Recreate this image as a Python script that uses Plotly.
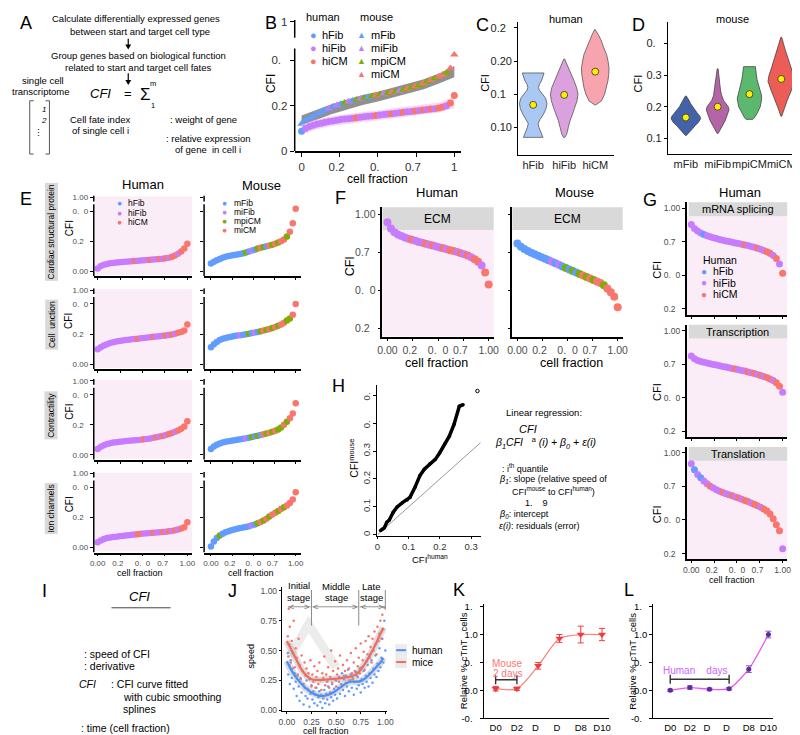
import plotly.graph_objects as go

W, H = 800, 735
FONT = "Liberation Sans"
G = "\u2007"      # digit-wide blank where the reference lost a glyph
NB = "\u00a0"

HUMAN_COLORS = {"F": "#619cff", "I": "#c77cff", "C": "#f8766d"}
MOUSE_COLORS = {"F": "#619cff", "I": "#c77cff", "P": "#7cae00", "C": "#f8766d"}
PINK = "#fbedf8"
STRIP = "#d9d9d9"
TG = "#4d4d4d"

# ---------------- Panel B ----------------
B_mouse_cfi = [0.120, 0.135, 0.145, 0.155, 0.165, 0.172, 0.180, 0.187, 0.195, 0.202,
               0.208, 0.213, 0.218, 0.222, 0.226, 0.230, 0.234, 0.238, 0.242, 0.246,
               0.250, 0.253, 0.256, 0.259, 0.262, 0.265, 0.270, 0.275, 0.280, 0.285,
               0.290, 0.298, 0.306, 0.313, 0.320, 0.328, 0.336, 0.345, 0.365, 0.425]
B_mouse_grp = "FFFFFFFIFI" "FPIFPIPFPC" "PIPCPIPCPC" "PCPCPCCPCC"
B_human_cfi = [0.087, 0.100, 0.108, 0.114, 0.119, 0.123, 0.127, 0.130, 0.133, 0.136,
               0.139, 0.141, 0.143, 0.145, 0.147, 0.149, 0.151, 0.153, 0.155, 0.157,
               0.159, 0.161, 0.163, 0.165, 0.167, 0.169, 0.171, 0.173, 0.175, 0.177,
               0.179, 0.181, 0.183, 0.185, 0.187, 0.190, 0.194, 0.200, 0.212, 0.245]
B_human_grp = "FIIIIIIIII" "IIIICIIIIC" "IIICIICIIC" "ICICICCICC"
B_band_x = [0.0, 0.1, 0.2, 0.3, 0.4, 0.5, 0.6, 0.7, 0.8, 0.9, 1.0]
B_mouse_lo = [0.113, 0.138, 0.163, 0.183, 0.203, 0.218, 0.236, 0.253, 0.273, 0.298, 0.325]
B_mouse_hi = [0.157, 0.182, 0.207, 0.227, 0.247, 0.262, 0.280, 0.297, 0.317, 0.342, 0.375]
B_human_lo = [0.073, 0.096, 0.110, 0.120, 0.128, 0.136, 0.144, 0.153, 0.161, 0.170, 0.190]
B_human_hi = [0.117, 0.140, 0.154, 0.164, 0.172, 0.180, 0.188, 0.197, 0.205, 0.214, 0.240]
B_human_labels = ["hFib", "hiFib", "hiCM"]
B_mouse_labels = ["mFib", "miFib", "mpiCM", "miCM"]

# ---------------- Panel C (violin density profiles) ----------------
C_groups = ["hFib", "hiFib", "hiCM"]
C_fill = ["#a9c9f4", "#dba1df", "#f7a4ae"]
C_prof_y = [
    [0.085, 0.09, 0.095, 0.10, 0.106, 0.112, 0.12, 0.128, 0.136, 0.144, 0.15, 0.156, 0.16, 0.165, 0.17, 0.176, 0.182],
    [0.085, 0.09, 0.10, 0.11, 0.12, 0.13, 0.14, 0.15, 0.16, 0.17, 0.18, 0.19, 0.197, 0.203],
    [0.134, 0.14, 0.15, 0.16, 0.17, 0.18, 0.19, 0.20, 0.21, 0.22, 0.23, 0.24, 0.248],
]
C_prof_w = [
    [0.71, 0.6, 0.5, 0.42, 0.36, 0.5, 0.75, 0.93, 1.0, 0.9, 0.68, 0.45, 0.39, 0.45, 0.6, 0.72, 0.79],
    [0.05, 0.18, 0.3, 0.42, 0.6, 0.78, 0.93, 1.0, 0.9, 0.72, 0.52, 0.32, 0.15, 0.03],
    [0.05, 0.45, 0.68, 0.82, 0.92, 0.98, 1.0, 0.93, 0.82, 0.62, 0.45, 0.22, 0.03],
]
C_center = [0.134, 0.149, 0.184]

# ---------------- Panel D ----------------
D_groups = ["mFib", "miFib", "mpiCM", "miCM"]
D_fill = ["#4462a8", "#b565a7", "#5cb86e", "#ec5d57"]
D_prof_y = [
    [0.109, 0.12, 0.13, 0.14, 0.15, 0.162, 0.17, 0.18, 0.19, 0.20, 0.21, 0.22, 0.234],
    [0.115, 0.125, 0.14, 0.155, 0.17, 0.18, 0.19, 0.20, 0.21, 0.22, 0.235, 0.25, 0.27, 0.29, 0.32],
    [0.16, 0.165, 0.18, 0.20, 0.225, 0.24, 0.255, 0.27, 0.285, 0.30, 0.315, 0.327],
    [0.17, 0.19, 0.22, 0.25, 0.28, 0.30, 0.32, 0.34, 0.36, 0.38, 0.40, 0.42],
]
D_prof_w = [
    [0.03, 0.27, 0.45, 0.62, 0.85, 1.0, 0.95, 0.77, 0.6, 0.43, 0.32, 0.22, 0.03],
    [0.03, 0.15, 0.33, 0.5, 0.62, 0.72, 0.77, 0.72, 0.58, 0.4, 0.28, 0.2, 0.15, 0.12, 0.03],
    [0.23, 0.33, 0.53, 0.73, 0.83, 0.8, 0.7, 0.6, 0.52, 0.47, 0.42, 0.4],
    [0.03, 0.17, 0.4, 0.67, 0.9, 0.83, 0.68, 0.53, 0.4, 0.27, 0.15, 0.03],
]
D_center = [0.166, 0.200, 0.240, 0.288]

# ---------------- Panel E (sorted CFI per cell) ----------------
E_h_cardiac = [0.025, 0.045, 0.055, 0.062, 0.067, 0.071, 0.074, 0.077, 0.079, 0.081,
               0.083, 0.085, 0.087, 0.089, 0.091, 0.093, 0.095, 0.097, 0.099, 0.101,
               0.103, 0.106, 0.109, 0.114, 0.122, 0.133, 0.147, 0.165, 0.190, 0.230]
E_h_cardiac_grp = "IIIIIIIIII" "IICIIIICII" "CICICCICCC"
E_m_cardiac = [0.065, 0.080, 0.093, 0.104, 0.113, 0.121, 0.128, 0.133, 0.137, 0.141,
               0.145, 0.150, 0.157, 0.165, 0.173, 0.181, 0.190, 0.197, 0.203, 0.209,
               0.215, 0.222, 0.230, 0.240, 0.250, 0.265, 0.290, 0.330, 0.400, 0.520]
E_m_cardiac_grp = "FFFFFFFFFF" "FFPFIFPCPF" "CPCPCCPCCC"
E_h_junction = [0.123, 0.140, 0.155, 0.166, 0.175, 0.182, 0.188, 0.193, 0.197, 0.200,
                0.203, 0.206, 0.209, 0.212, 0.215, 0.218, 0.221, 0.224, 0.227, 0.229,
                0.232, 0.235, 0.238, 0.242, 0.247, 0.253, 0.260, 0.268, 0.280, 0.330]
E_h_junction_grp = "IIIIIIIIII" "IIICIIIICI" "IICICICCCC"
E_m_junction = [0.140, 0.165, 0.185, 0.200, 0.210, 0.217, 0.223, 0.228, 0.233, 0.237,
                0.241, 0.245, 0.249, 0.253, 0.258, 0.263, 0.268, 0.273, 0.279, 0.285,
                0.292, 0.300, 0.308, 0.318, 0.330, 0.345, 0.362, 0.380, 0.410, 0.500]
E_m_junction_grp = "FFFFFFFFFF" "IFFPFIFPCP" "CPCPCCPPCC"
E_h_contract = [0.050, 0.068, 0.080, 0.090, 0.097, 0.102, 0.106, 0.109, 0.112, 0.115,
                0.117, 0.119, 0.121, 0.123, 0.126, 0.129, 0.133, 0.137, 0.142, 0.147,
                0.152, 0.158, 0.165, 0.173, 0.182, 0.192, 0.203, 0.217, 0.235, 0.280]
E_h_contract_grp = "IIIIIIIIII" "IIIIICIIIC" "ICICCICCCC"
E_m_contract = [0.050, 0.070, 0.085, 0.095, 0.103, 0.109, 0.114, 0.118, 0.122, 0.126,
                0.130, 0.134, 0.138, 0.143, 0.148, 0.154, 0.160, 0.166, 0.172, 0.178,
                0.185, 0.192, 0.200, 0.212, 0.228, 0.250, 0.275, 0.305, 0.345, 0.430]
E_m_contract_grp = "FFFFFFFFFF" "FFIFPFPFCP" "CPCPPCPCCC"
E_h_ion = [0.045, 0.060, 0.072, 0.080, 0.085, 0.088, 0.091, 0.094, 0.097, 0.100,
           0.103, 0.106, 0.109, 0.112, 0.115, 0.117, 0.119, 0.121, 0.123, 0.125,
           0.127, 0.129, 0.132, 0.135, 0.139, 0.144, 0.150, 0.158, 0.170, 0.210]
E_h_ion_grp = "IIIIIIIIII" "IIICCIIICI" "ICICICICCC"
E_m_ion = [0.010, 0.050, 0.080, 0.100, 0.115, 0.127, 0.137, 0.145, 0.151, 0.157,
           0.162, 0.167, 0.172, 0.178, 0.185, 0.193, 0.202, 0.212, 0.225, 0.240,
           0.258, 0.275, 0.290, 0.305, 0.320, 0.335, 0.350, 0.370, 0.400, 0.460]
E_m_ion_grp = "FFFPFFFFFF" "FFFFIFPCPC" "PCCPCPCCCC"
E_names = ["Cardiac structural protein", "Cell " + NB + "unction", "Contractility", "Ion channels"]

# ---------------- Panel F ----------------
F_human = [0.950, 0.910, 0.885, 0.870, 0.860, 0.850, 0.842, 0.835, 0.828, 0.821,
           0.815, 0.809, 0.803, 0.797, 0.791, 0.785, 0.779, 0.773, 0.767, 0.761,
           0.754, 0.747, 0.740, 0.731, 0.720, 0.707, 0.690, 0.665, 0.620, 0.540]
F_human_grp = "IIIIIIICII" "ICICIICICC" "ICICICCICC"
F_mouse = [0.810, 0.790, 0.775, 0.762, 0.750, 0.740, 0.730, 0.720, 0.710, 0.700,
           0.690, 0.680, 0.670, 0.660, 0.650, 0.640, 0.630, 0.620, 0.610, 0.600,
           0.590, 0.580, 0.570, 0.560, 0.550, 0.535, 0.515, 0.490, 0.460, 0.390]
F_mouse_grp = "FFFFFFFFFF" "IFIFPFPFPC" "PCPCCPCCCC"

# ---------------- Panel G ----------------
G_splicing = [0.880, 0.850, 0.830, 0.815, 0.805, 0.795, 0.787, 0.780, 0.774, 0.768,
              0.762, 0.757, 0.752, 0.747, 0.742, 0.737, 0.732, 0.727, 0.722, 0.716,
              0.710, 0.703, 0.695, 0.686, 0.676, 0.664, 0.648, 0.625, 0.585, 0.515]
G_splicing_grp = "IIIIFIIIII" "IIIIIIICII" "ICIICCICIC"
G_transcr = [0.810, 0.790, 0.778, 0.770, 0.764, 0.758, 0.753, 0.748, 0.743, 0.738,
             0.733, 0.728, 0.723, 0.718, 0.713, 0.708, 0.703, 0.698, 0.692, 0.686,
             0.680, 0.673, 0.666, 0.658, 0.650, 0.640, 0.628, 0.612, 0.585, 0.540]
G_transcr_grp = "IIIIIIIIII" "IIIICIIICI" "CICICCICCI"
G_transl = [0.920, 0.875, 0.840, 0.815, 0.790, 0.770, 0.752, 0.738, 0.726, 0.715,
            0.705, 0.696, 0.688, 0.680, 0.672, 0.664, 0.655, 0.646, 0.637, 0.627,
            0.617, 0.606, 0.595, 0.582, 0.567, 0.545, 0.510, 0.465, 0.420, 0.285]
G_transl_grp = "IFIFIICIII" "CIICICICCI" "CCICCCCCCI"
G_names = ["mRNA splicing", "Transcription", "Translation"]

# ---------------- Panel H (quantile pairs) ----------------
H_human_q = [0.010, 0.015, 0.022, 0.030, 0.038, 0.050, 0.063, 0.080, 0.095, 0.104, 0.120,
             0.136, 0.150, 0.167, 0.185, 0.199, 0.215, 0.230, 0.245, 0.262, 0.274]
H_mouse_q = [0.015, 0.020, 0.025, 0.045, 0.053, 0.080, 0.100, 0.115, 0.125, 0.134, 0.170,
             0.212, 0.235, 0.254, 0.270, 0.293, 0.325, 0.353, 0.395, 0.460, 0.466]
H_outlier = (0.320, 0.515)
H_diag = [0.0, 0.33]

# ---------------- Panel J (speed vs cell fraction) ----------------
J_h_x = [0.01, 0.015, 0.02, 0.025, 0.03, 0.04, 0.05, 0.06, 0.07, 0.08, 0.09, 0.10, 0.11, 0.12, 0.13, 0.14, 0.15,
         0.16, 0.17, 0.18, 0.19, 0.20, 0.21, 0.22, 0.23, 0.24, 0.25, 0.26, 0.27, 0.28, 0.29, 0.30, 0.31, 0.32,
         0.33, 0.34, 0.35, 0.36, 0.37, 0.38, 0.39, 0.40, 0.41, 0.42, 0.43, 0.44, 0.45, 0.46, 0.47, 0.48, 0.49,
         0.50, 0.51, 0.52, 0.53, 0.54, 0.55, 0.56, 0.57, 0.58, 0.59, 0.60, 0.61, 0.62, 0.63, 0.64, 0.65, 0.66,
         0.67, 0.68, 0.69, 0.70, 0.71, 0.72, 0.73, 0.74, 0.75, 0.76, 0.77, 0.78, 0.79, 0.80, 0.81, 0.82, 0.83,
         0.84, 0.85, 0.86, 0.87, 0.88, 0.89, 0.90, 0.91, 0.92, 0.93, 0.94, 0.95, 0.96, 0.97, 0.98, 0.99, 1.0]
J_h_y = [0.48, 0.30, 0.55, 0.38, 0.22, 0.42, 0.27, 0.35, 0.18, 0.31, 0.24, 0.12, 0.29, 0.20, 0.08, 0.26, 0.15,
         0.22, 0.05, 0.19, 0.12, 0.25, 0.10, 0.17, 0.03, 0.14, 0.21, 0.09, 0.16, 0.06, 0.13, 0.19, 0.04, 0.11,
         0.16, 0.07, 0.13, 0.02, 0.10, 0.17, 0.06, 0.14, 0.09, 0.20, 0.05, 0.15, 0.11, 0.22, 0.08, 0.18, 0.13,
         0.25, 0.10, 0.19, 0.28, 0.14, 0.22, 0.31, 0.17, 0.26, 0.12, 0.29, 0.20, 0.34, 0.16, 0.25, 0.30, 0.19,
         0.27, 0.13, 0.24, 0.32, 0.18, 0.28, 0.21, 0.35, 0.15, 0.26, 0.22, 0.33, 0.19, 0.29, 0.24, 0.38, 0.20,
         0.31, 0.27, 0.42, 0.23, 0.35, 0.30, 0.46, 0.28, 0.39, 0.33, 0.52, 0.36, 0.44, 0.60, 0.40, 0.75, 0.50]
J_m_x = [0.01, 0.015, 0.02, 0.025, 0.03, 0.04, 0.05, 0.06, 0.07, 0.08, 0.09, 0.10, 0.11, 0.12, 0.13, 0.14, 0.15,
         0.16, 0.17, 0.18, 0.19, 0.20, 0.21, 0.22, 0.23, 0.24, 0.25, 0.26, 0.27, 0.28, 0.29, 0.30, 0.31, 0.32,
         0.33, 0.34, 0.35, 0.36, 0.37, 0.38, 0.39, 0.40, 0.41, 0.42, 0.43, 0.44, 0.45, 0.46, 0.47, 0.48, 0.49,
         0.50, 0.51, 0.52, 0.53, 0.54, 0.55, 0.56, 0.57, 0.58, 0.59, 0.60, 0.61, 0.62, 0.63, 0.64, 0.65, 0.66,
         0.67, 0.68, 0.69, 0.70, 0.71, 0.72, 0.73, 0.74, 0.75, 0.76, 0.77, 0.78, 0.79, 0.80, 0.81, 0.82, 0.83,
         0.84, 0.85, 0.86, 0.87, 0.88, 0.89, 0.90, 0.91, 0.92, 0.93, 0.94, 0.95, 0.96, 0.97, 0.98, 0.99]
J_m_y = [0.62, 0.45, 0.85, 0.55, 0.70, 0.40, 0.58, 0.48, 0.75, 0.36, 0.52, 0.44, 0.30, 0.60, 0.38, 0.27, 0.46,
         0.33, 0.22, 0.40, 0.29, 0.35, 0.18, 0.31, 0.26, 0.42, 0.20, 0.30, 0.24, 0.37, 0.19, 0.28, 0.33, 0.22,
         0.40, 0.25, 0.17, 0.31, 0.27, 0.45, 0.21, 0.30, 0.24, 0.36, 0.19, 0.28, 0.50, 0.23, 0.33, 0.26, 0.41,
         0.20, 0.30, 0.35, 0.24, 0.46, 0.27, 0.21, 0.38, 0.29, 0.33, 0.23, 0.42, 0.28, 0.35, 0.25, 0.48, 0.31,
         0.26, 0.40, 0.33, 0.52, 0.29, 0.37, 0.44, 0.31, 0.56, 0.36, 0.42, 0.49, 0.34, 0.58, 0.41, 0.47, 0.62,
         0.44, 0.53, 0.40, 0.60, 0.50, 0.66, 0.55, 0.47, 0.70, 0.58, 0.64, 0.75, 0.60, 0.80, 0.68, 0.86]
J_fit_x = [0.0, 0.05, 0.1, 0.15, 0.2, 0.25, 0.3, 0.35, 0.4, 0.45, 0.5, 0.55, 0.6, 0.65, 0.7, 0.75, 0.8, 0.85, 0.9, 0.95, 0.98]
J_fit_h = [0.41, 0.33, 0.27, 0.22, 0.18, 0.15, 0.13, 0.12, 0.125, 0.14, 0.165, 0.195, 0.225, 0.24, 0.24, 0.245, 0.27, 0.31, 0.355, 0.40, 0.44]
J_fit_m = [0.58, 0.50, 0.42, 0.34, 0.29, 0.26, 0.255, 0.255, 0.258, 0.262, 0.265, 0.27, 0.275, 0.285, 0.30, 0.34, 0.40, 0.47, 0.55, 0.64, 0.69]
J_ghost_x = [0.03, 0.22, 0.50]       # faint grey ribbon in the upper-left of J
J_ghost_y = [0.45, 0.72, 0.36]
J_stage_bounds = [0.0, 0.25, 0.73, 1.0]

# ---------------- Panels K, L ----------------
K_days = [0, 2, 4, 6, 8, 10]
K_mean = [0.03, 0.03, 0.44, 0.93, 1.00, 1.00]
K_err = [0.04, 0.03, 0.06, 0.07, 0.15, 0.11]
L_days = [0, 2, 4, 6, 8, 10]
L_mean = [0.00, 0.05, 0.02, 0.03, 0.38, 1.00]
L_err = [0.02, 0.03, 0.02, 0.02, 0.06, 0.06]
DAY_LABELS = ["D0", "D2", "D" + G, "D" + G, "D8", "D10"]

# =====================================================================
fig = go.Figure()
annotations, shapes = [], []
layout = dict(width=W, height=H, margin=dict(l=0, r=0, t=0, b=0), paper_bgcolor="white",
              plot_bgcolor="rgba(0,0,0,0)", showlegend=False,
              font=dict(family=FONT, color="black", size=10))
_n = [0]


def new_axes(x0, x1, y0, y1, xr, yr, xa=None, ya=None):
    _n[0] += 1
    s = "" if _n[0] == 1 else str(_n[0])
    base = dict(showgrid=False, zeroline=False, showline=False, ticks="", showticklabels=False, fixedrange=True)
    xd = dict(base, domain=[x0 / W, x1 / W], range=xr, anchor="y" + s)
    yd = dict(base, domain=[1 - y1 / H, 1 - y0 / H], range=yr, anchor="x" + s)
    xd.update(xa or {})
    yd.update(ya or {})
    layout["xaxis" + s] = xd
    layout["yaxis" + s] = yd
    return "x" + s, "y" + s


def ax(vals=None, text=None, size=9, color=TG, line=True, lw=1.2, tl=3, labels=True, angle=None, ticks="outside"):
    d = dict(showline=line, linecolor="black", linewidth=lw, ticks=ticks, ticklen=tl, tickwidth=1,
             tickcolor="black", showticklabels=labels, tickfont=dict(family=FONT, size=size, color=color))
    if vals is not None:
        d.update(tickmode="array", tickvals=vals, ticktext=text if text is not None else [str(v) for v in vals])
    d["tickangle"] = 0 if angle is None else angle
    return d


def label(x, y, s, size=10, color="black", xanchor="center", angle=0, bg=None):
    a = dict(x=x / W, y=1 - y / H, xref="paper", yref="paper", text=s, showarrow=False,
             xanchor=xanchor, yanchor="middle", textangle=angle,
             font=dict(family=FONT, size=size, color=color))
    if bg:
        a.update(bgcolor=bg, borderpad=1)
    annotations.append(a)


def seg(x0, y0, x1, y1, color="black", width=1):
    shapes.append(dict(type="line", xref="paper", yref="paper", x0=x0 / W, y0=1 - y0 / H,
                       x1=x1 / W, y1=1 - y1 / H, line=dict(color=color, width=width), layer="above"))


def box(x0, y0, x1, y1, color):
    shapes.append(dict(type="rect", xref="paper", yref="paper", x0=x0 / W, y0=1 - y1 / H,
                       x1=x1 / W, y1=1 - y0 / H, fillcolor=color, line=dict(width=0), layer="below"))


def yaxis_seg(xa, ya, lo, hi, width=1.5):
    shapes.append(dict(type="line", xref=xa + " domain", yref=ya, x0=0, x1=0, y0=lo, y1=hi,
                       line=dict(color="black", width=width), layer="above"))


def down_arrow(x, y0, y1):
    seg(x, y0, x, y1 - 3, "black", 1.2)
    shapes.append(dict(type="path", xref="paper", yref="paper", fillcolor="black", line=dict(width=0),
                       path="M {:.5f} {:.5f} L {:.5f} {:.5f} L {:.5f} {:.5f} Z".format(
                           (x - 3) / W, 1 - (y1 - 5) / H, (x + 3) / W, 1 - (y1 - 5) / H, x / W, 1 - y1 / H)))


def dots(xa, ya, vals, grp, cmap, size, symbol="circle"):
    n = len(vals)
    xs = [i / (n - 1) for i in range(n)]
    cols = [cmap[grp[i % len(grp)]] for i in range(n)]
    fig.add_trace(go.Scatter(x=xs, y=vals, mode="markers", xaxis=xa, yaxis=ya, hoverinfo="skip",
                             marker=dict(size=size, color=cols, symbol=symbol, line=dict(width=0))))


# ---------------- Panel A: text ----------------
label(13, 11, "A", 18)
label(125, 7, "Calculate differentially expressed genes", 9.5)
label(129, 20, "between start and target cell type", 9.5)
down_arrow(117, 27, 38)
label(127, 44, "Group genes based on biological function", 9.5)
label(127, 56, "related to start and target cell fates", 9.5)
down_arrow(117, 62, 74)
label(30, 69, "single cell", 9.5)
label(28, 81, "transcriptome", 9.5)
label(89, 83, "<i>CFI</i>", 13)
label(117, 83, "=", 13)
label(135, 84, "Σ", 17)
label(142, 72, "m", 7.5)
label(142, 95, "1", 7.5)
for (a, b, c, d) in [(17, 90, 17, 144), (17, 90, 21, 90), (17, 144, 21, 144),
                     (37, 90, 37, 144), (33, 90, 37, 90), (33, 144, 37, 144)]:
    seg(a, b, c, d, "#555", 1)
label(31, 99, "<i>1</i>", 8)
label(31, 110, "<i>2</i>", 8)
label(26, 123, "⋮", 9)
label(88, 109, "Cell fate index", 9.5)
label(89, 120, "of single cell i", 9.5)
label(157, 109, ": weight of gene", 9.5, xanchor="left")
label(153, 128, ": relative expression", 9.5, xanchor="left")
label(162, 139, "of gene" + NB + " in cell i", 9.5, xanchor="left")

# ---------------- Panel B ----------------
bx, by = new_axes(286, 455, 8, 141, [-0.045, 1.045], [0, 133 / 230],
                  xa=ax([0, 0.25, 0.5, 0.75, 1], ["0", "0.2" + G, "0." + G, "0.7" + G, "1"], size=11.5, color="#333", lw=1.5, tl=4),
                  ya=ax([0, 0.2, 0.4, 131 / 230], ["0", "0.2", "0." + G, "1"], size=11.5, color="#333", line=False, tl=4))
yaxis_seg(bx, by, 0, 104 / 230)
yaxis_seg(bx, by, 115 / 230, 133 / 230)
fig.add_trace(go.Scatter(x=B_band_x, y=B_mouse_lo, xaxis=bx, yaxis=by, mode="lines", line=dict(width=0), hoverinfo="skip"))
fig.add_trace(go.Scatter(x=B_band_x, y=B_mouse_hi, xaxis=bx, yaxis=by, mode="lines", line=dict(width=0), fill="tonexty",
                         fillcolor="rgba(125,125,125,0.85)", hoverinfo="skip"))
dots(bx, by, B_mouse_cfi, B_mouse_grp, MOUSE_COLORS, 7.5, "triangle-up")
fig.add_trace(go.Scatter(x=B_band_x, y=B_human_lo, xaxis=bx, yaxis=by, mode="lines", line=dict(width=0), hoverinfo="skip"))
fig.add_trace(go.Scatter(x=B_band_x, y=B_human_hi, xaxis=bx, yaxis=by, mode="lines", line=dict(width=0), fill="tonexty",
                         fillcolor="rgba(238,190,238,0.6)", hoverinfo="skip"))
dots(bx, by, B_human_cfi, B_human_grp, HUMAN_COLORS, 7)
label(262, 11, "B", 18)
label(262, 73, "CFI", 12, angle=-90)
label(370, 169, "cell fraction", 12)
label(315, 5, "human", 11)
label(369, 5, "mouse", 11)
for i, (nm, k) in enumerate(zip(B_human_labels, "FIC")):
    label(305, 23 + 13.5 * i, "●", 11, HUMAN_COLORS[k])
    label(312, 23 + 13.5 * i, nm, 11, xanchor="left")
for i, (nm, k) in enumerate(zip(B_mouse_labels, "FIPC")):
    label(354, 23 + 13.2 * i, "▲", 9, MOUSE_COLORS[k])
    label(361, 23 + 13.2 * i, nm, 11, xanchor="left")

# ---------------- Panel C ----------------
cx, cy = new_axes(513, 610, 10, 145, [0.52, 3.6], [0.0584, 0.259],
                  xa=ax([1, 2, 3], C_groups, size=11, color="#222", ticks=""),
                  ya=ax([0.10, 0.15, 0.20, 0.25], ["0.10", "0.1" + G, "0.20", "0.2" + G], size=11, color="#222"))
for i in range(3):
    c = i + 1
    ys, ws = C_prof_y[i], C_prof_w[i]
    px_ = [c + 0.444 * w for w in ws] + [c - 0.444 * w for w in ws[::-1]]
    py_ = ys + ys[::-1]
    fig.add_trace(go.Scatter(x=px_ + [px_[0]], y=py_ + [py_[0]], xaxis=cx, yaxis=cy, mode="lines", fill="toself",
                             fillcolor=C_fill[i], line=dict(color="#555", width=0.8), hoverinfo="skip"))
fig.add_trace(go.Scatter(x=[1, 2, 3], y=C_center, xaxis=cx, yaxis=cy, mode="markers", hoverinfo="skip",
                         marker=dict(size=7, color="#ffee00", line=dict(color="#333", width=0.8))))
label(477, 13, "C", 18)
label(561, 7, "human", 11)
label(479, 72, "CFI", 11, angle=-90)

# ---------------- Panel D ----------------
dx, dy = new_axes(665, 800, 10, 144, [0.44, 4.62], [0.05, 0.469],
                  xa=ax([1, 2, 3, 4], D_groups, size=11, color="#222", ticks="", angle=0),
                  ya=ax([0.1, 0.2, 0.3, 0.4], ["0.1", "0.2", "0.3", "0." + G], size=11, color="#222"))
for i in range(4):
    c = i + 1
    ys, ws = D_prof_y[i], D_prof_w[i]
    px_ = [c + 0.464 * w for w in ws] + [c - 0.464 * w for w in ws[::-1]]
    py_ = ys + ys[::-1]
    fig.add_trace(go.Scatter(x=px_ + [px_[0]], y=py_ + [py_[0]], xaxis=dx, yaxis=dy, mode="lines", fill="toself",
                             fillcolor=D_fill[i], line=dict(color="#444", width=0.8), hoverinfo="skip"))
fig.add_trace(go.Scatter(x=[1, 2, 3, 4], y=D_center, xaxis=dx, yaxis=dy, mode="markers", hoverinfo="skip",
                         marker=dict(size=7, color="#ffee00", line=dict(color="#333", width=0.8))))
label(635, 13, "D", 18)
label(730, 7, "mouse", 11)
label(635, 72, "CFI", 11, angle=-90)

# ---------------- Panel E ----------------
E_rows = [(E_h_cardiac, E_h_cardiac_grp, E_m_cardiac, E_m_cardiac_grp),
          (E_h_junction, E_h_junction_grp, E_m_junction, E_m_junction_grp),
          (E_h_contract, E_h_contract_grp, E_m_contract, E_m_contract_grp),
          (E_h_ion, E_h_ion_grp, E_m_ion, E_m_ion_grp)]
E_y0 = [263, 357, 449, 543]
XT = [0, 0.25, 0.5, 0.75, 1]
XT_TXT = ["0.00", "0.2" + G, "0." + G + "0", "0.7" + G, "1.00"]
for r, (hv, hg, mv, mg) in enumerate(E_rows):
    y0 = E_y0[r]
    last = r == 3
    yr = [-5 / 122, 77 / 122]
    yt = ([0, 0.25, 0.5, 75 / 122], ["0.00", "0.2" + G, "0." + G + "0", "1.00"])
    hx, hy = new_axes(82, 182, y0 - 77, y0 + 5, [-0.044, 1.055], yr,
                      xa=ax(XT, XT_TXT, size=8, lw=1.5, tl=2, labels=last),
                      ya=ax(yt[0], yt[1], size=8, line=False))
    box(83, y0 - 76, 182, y0 + 4, PINK)
    yaxis_seg(hx, hy, -5 / 122, 68 / 122)
    yaxis_seg(hx, hy, 71 / 122, 77 / 122)
    dots(hx, hy, hv, hg, HUMAN_COLORS, 6.5)
    mx, my = new_axes(194, 292, y0 - 77, y0 + 5, [-0.081, 1.058], yr,
                      xa=ax(XT, XT_TXT, size=8, lw=1.5, tl=2, labels=last),
                      ya=ax(yt[0], yt[1], size=8, line=False, labels=False))
    yaxis_seg(mx, my, -5 / 122, 68 / 122)
    yaxis_seg(mx, my, 71 / 122, 77 / 122)
    dots(mx, my, mv, mg, MOUSE_COLORS, 6.5)
    label(57, y0 - 44, "CFI", 10, angle=-90)
    label(39, y0 - 40, E_names[r], 8.5, angle=-90, bg=STRIP)
label(13, 190, "E", 18)
label(132, 175, "Human", 13)
label(252, 176, "Mouse", 13)
label(129, 569, "cell fraction", 9)
label(242, 569, "cell fraction", 9)
for i, (nm, k) in enumerate(zip(B_human_labels, "FIC")):
    label(108, 194 + 9.5 * i, "●", 8.5, HUMAN_COLORS[k])
    label(115, 194 + 9.5 * i, nm, 8.5, xanchor="left")
for i, (nm, k) in enumerate(zip(B_mouse_labels, "FIPC")):
    label(215, 194 + 9 * i, "●", 8.5, MOUSE_COLORS[k])
    label(222, 194 + 9 * i, nm, 8.5, xanchor="left")

# ---------------- Panel F ----------------
FY = ([0.25, 0.5, 0.75, 1.0], ["0.2" + G, "0." + G + "0", "0.7" + G, "1.00"])
fhx, fhy = new_axes(375, 488, 198, 329, [-0.05, 1.05], [0.198, 1.049],
                    xa=ax(XT, XT_TXT, size=10.5, lw=1.5), ya=ax(FY[0], FY[1], size=10.5, lw=1.5))
box(375, 221, 488, 329, PINK)
box(375, 198, 488, 221, STRIP)
dots(fhx, fhy, F_human, F_human_grp, HUMAN_COLORS, 8)
fmx, fmy = new_axes(507, 619, 198, 329, [-0.05, 1.05], [0.198, 1.049],
                    xa=ax(XT, XT_TXT, size=10.5, lw=1.5), ya=ax(FY[0], FY[1], size=10.5, lw=1.5, labels=False))
box(507, 198, 619, 221, STRIP)
dots(fmx, fmy, F_mouse, F_mouse_grp, MOUSE_COLORS, 8)
label(431, 210, "ECM", 12)
label(563, 210, "ECM", 12)
label(332, 189, "F", 18)
label(430, 183, "Human", 13)
label(570, 183, "Mouse", 13)
label(343, 258, "CFI", 12.5, angle=-90)
label(430, 356, "cell fraction", 12.5)
label(567, 356, "cell fraction", 12.5)

# ---------------- Panel G ----------------
G_rows = [(G_splicing, G_splicing_grp), (G_transcr, G_transcr_grp), (G_transl, G_transl_grp)]
G_top = [193, 317, 441]
for r, (vals, grp) in enumerate(G_rows):
    top = G_top[r]
    bot = top + 114
    y75 = top + 40
    gx, gy = new_axes(684, 786, top, bot, [-0.05, 1.05], [0.75 - (bot - y75) / 136, 0.75 + (y75 - top) / 136],
                      xa=ax(XT, XT_TXT, size=8.5, lw=1.5, tl=2, labels=(r == 2)),
                      ya=ax(FY[0], FY[1], size=8.5, lw=1.5))
    box(684, top + 14, 786, bot, PINK)
    box(686, top, 786, top + 14, STRIP)
    dots(gx, gy, vals, grp, HUMAN_COLORS, 7)
    label(736, top + 7, G_names[r], 11)
    label(654, top + 68, "CFI", 11, angle=-90)
label(647, 191, "G", 18)
label(738, 183, "Human", 13)
label(730, 576, "cell fraction", 9)
label(698, 251, "Human", 10.5, xanchor="left")
for i, (nm, k) in enumerate(zip(B_human_labels, "FIC")):
    label(702, 263 + 11.5 * i, "●", 10, HUMAN_COLORS[k])
    label(709, 263 + 11.5 * i, nm, 10.5, xanchor="left")

# ---------------- Panel H ----------------
hhx, hhy = new_axes(370, 475, 378, 531, [0, 0.331], [-0.0035, 0.537],
                    xa=ax([0, 0.1, 0.2, 0.3], ["0", "0.1", "0.2", "0.3"], size=9.5, color="#333", lw=1, tl=2),
                    ya=ax([0, 0.1, 0.2, 0.3, 0.4, 0.5], ["0", "0.1", "0.2", "0.3", "0." + G, "0." + G],
                          size=9.5, color="#333", lw=1, angle=-90))
fig.add_trace(go.Scatter(x=H_diag, y=H_diag, xaxis=hhx, yaxis=hhy, mode="lines", line=dict(color="#9a9a9a", width=1), hoverinfo="skip"))
fig.add_trace(go.Scatter(x=H_human_q, y=H_mouse_q, xaxis=hhx, yaxis=hhy, mode="lines+markers", hoverinfo="skip",
                         line=dict(color="black", width=3.5), marker=dict(size=3.5, color="black")))
fig.add_trace(go.Scatter(x=[H_outlier[0]], y=[H_outlier[1]], xaxis=hhx, yaxis=hhy, mode="markers", hoverinfo="skip",
                         marker=dict(size=3.5, color="black", symbol="circle-open")))
label(330, 379, "H", 18)
label(346, 452, "CFI<sup>mouse</sup>", 10.5, angle=-90)
label(423, 555, "CFI<sup>human</sup>", 9.5)
label(498, 406, "Linear regression:", 9.5, xanchor="left")
label(512, 423, "<i>CFI</i>", 11, xanchor="left")
label(487, 437, "<i>β<sub>1</sub>CFI</i>" + NB * 3 + "<sup>a</sup> <i>(i) + β<sub>0</sub> + ε(i)</i>", 10.5, xanchor="left")
label(494, 462, ": i<sup>th</sup> quantile", 9, xanchor="left")
label(491, 474, "<i>β<sub>1</sub></i>: slope (relative speed of", 9, xanchor="left")
label(505, 486, "CFI<sup>mouse</sup> to CFI<sup>human</sup>)", 9, xanchor="left")
label(518, 498, "1." + G + G + "9", 9, xanchor="left")
label(491, 509, "<i>β<sub>0</sub></i>: intercept", 9, xanchor="left")
label(491, 521, "<i>ε(i)</i>: residuals (error)", 9, xanchor="left")

# ---------------- Panel I ----------------
label(32, 587, "I", 18)
label(128, 593, "<i>CFI</i>", 13)
seg(100, 604, 160, 604, "#444", 1)
label(70, 651, ": speed of CFI", 10.5, xanchor="left")
label(70, 663, ": derivative", 10.5, xanchor="left")
label(65, 681, "<i>CFI</i>", 10.5, xanchor="left")
label(97, 681, ": CFI curve fitted", 10.5, xanchor="left")
label(110, 694, "with cubic smoothing", 10.5, xanchor="left")
label(110, 707, "splines", 10.5, xanchor="left")
label(67, 726, ": time (cell fraction)", 10.5, xanchor="left")

# ---------------- Panel J ----------------
JT = [0, 0.25, 0.5, 0.75, 1.0]
JT_TXT = ["0.00", "0.25", "0.50", "0.75", "1.00"]
jx, jy = new_axes(273, 380, 583, 709, [-0.05, 1.02], [-1 / 121.2, 125 / 121.2],
                  xa=ax(JT, JT_TXT, size=8.5, lw=1.2, tl=2), ya=ax(JT, JT_TXT, size=8.5, lw=1.2, tl=2))
fig.add_trace(go.Scatter(x=J_ghost_x, y=J_ghost_y, xaxis=jx, yaxis=jy, mode="lines", hoverinfo="skip",
                         line=dict(color="rgba(200,200,200,0.35)", width=9)))
fig.add_trace(go.Scatter(x=J_h_x, y=J_h_y, xaxis=jx, yaxis=jy, mode="markers", hoverinfo="skip",
                         marker=dict(size=2.5, color="#619cff")))
fig.add_trace(go.Scatter(x=J_m_x, y=J_m_y, xaxis=jx, yaxis=jy, mode="markers", hoverinfo="skip",
                         marker=dict(size=2.5, color="#f8766d")))
for fy, col in [(J_fit_h, "#4f8ef7"), (J_fit_m, "#f26b60")]:
    fig.add_trace(go.Scatter(x=J_fit_x, y=fy, xaxis=jx, yaxis=jy, mode="lines", hoverinfo="skip",
                             line=dict(color="rgba(160,160,160,0.35)", width=7, shape="spline")))
    fig.add_trace(go.Scatter(x=J_fit_x, y=fy, xaxis=jx, yaxis=jy, mode="lines", hoverinfo="skip",
                             line=dict(color=col, width=2.3, shape="spline")))
for b in J_stage_bounds[1:]:
    shapes.append(dict(type="line", xref=jx, yref="paper", x0=b, x1=b, y0=1 - 622 / H if b < 1 else 1 - 606 / H,
                       y1=1 - 586 / H, line=dict(color="#888", width=1)))
for a_, b_ in zip(J_stage_bounds[:-1], J_stage_bounds[1:]):
    shapes.append(dict(type="line", xref=jx, yref="paper", x0=a_ + 0.01, x1=b_ - 0.01, y0=1 - 603 / H, y1=1 - 603 / H,
                       line=dict(color="#777", width=0.8)))
    for xe, ch in [(a_, "<"), (b_, ">")]:
        annotations.append(dict(x=xe, y=1 - 603 / H, xref=jx, yref="paper", text=ch, showarrow=False,
                                xanchor="left" if ch == "<" else "right", yanchor="middle",
                                font=dict(family=FONT, size=9, color="#777")))
label(290, 581, "Initial", 9.5)
label(290, 594, "stage", 9.5)
label(328, 582, "Middle", 9.5)
label(328, 594, "stage", 9.5)
label(364, 582, "Late", 9.5)
label(364, 594, "stage", 9.5)
label(223, 587, "J", 18)
label(242, 653, "speed", 9, angle=-90)
label(318, 729, "cell fraction", 9)
box(388, 641, 400, 653, "#ebebeb")
box(388, 653, 400, 665, "#ebebeb")
seg(389, 647, 399, 647, "#4f8ef7", 2)
seg(389, 659, 399, 659, "#f26b60", 2)
label(403, 647, "human", 10, xanchor="left")
label(403, 659, "mice", 10, xanchor="left")

# ---------------- Panel K ----------------
KY = ([-0.5, 0, 0.5, 1.0, 1.5], ["-0." + G, "0.0", "0." + G, "1.0", "1." + G])
kx, ky = new_axes(478, 605, 600, 716, [-1.11, 10.65], [-0.5, 1.55],
                  xa=ax(K_days, DAY_LABELS, size=9.5, color="black", ticks=""),
                  ya=ax(KY[0], KY[1], size=9.5, color="black"))
fig.add_trace(go.Scatter(x=K_days, y=K_mean, xaxis=kx, yaxis=ky, mode="lines", hoverinfo="skip",
                         line=dict(color="#f7877f", width=1.3, shape="spline", smoothing=0.8)))
fig.add_trace(go.Scatter(x=K_days, y=K_mean, xaxis=kx, yaxis=ky, mode="markers", hoverinfo="skip",
                         marker=dict(size=7, color="#f03c3c", symbol="triangle-down"),
                         error_y=dict(type="data", array=K_err, color="#f03c3c", thickness=1, width=3)))
for (x0_, y0_, x1_, y1_) in [(0, 0.19, 2, 0.19), (0, 0.11, 0, 0.27), (2, 0.11, 2, 0.27)]:
    shapes.append(dict(type="line", xref=kx, yref=ky, x0=x0_, y0=y0_, x1=x1_, y1=y1_,
                       line=dict(color="#333", width=1.4)))
label(502, 660, "Mouse", 10, "#ff7474")
label(502, 671, "2 days", 10, "#ff7474")
label(453, 586, "K", 18)
label(457, 658, "Relative % cTnT" + NB + NB + " cells", 9.5, angle=-90)

# ---------------- Panel L ----------------
lx, ly = new_axes(650, 772, 600, 716, [-1.73, 10.51], [-0.5, 1.55],
                  xa=ax(L_days, DAY_LABELS, size=9.5, color="black", ticks=""),
                  ya=ax(KY[0], KY[1], size=9.5, color="black"))
fig.add_trace(go.Scatter(x=L_days, y=L_mean, xaxis=lx, yaxis=ly, mode="lines", hoverinfo="skip",
                         line=dict(color="#ee55ee", width=1.3, shape="spline", smoothing=0.6)))
fig.add_trace(go.Scatter(x=L_days, y=L_mean, xaxis=lx, yaxis=ly, mode="markers", hoverinfo="skip",
                         marker=dict(size=5, color="#5b2c9e"),
                         error_y=dict(type="data", array=L_err, color="#8a5cc9", thickness=1, width=3)))
for (x0_, y0_, x1_, y1_) in [(0, 0.2, 6, 0.2), (0, 0.12, 0, 0.28), (6, 0.12, 6, 0.28)]:
    shapes.append(dict(type="line", xref=lx, yref=ly, x0=x0_, y0=y0_, x1=x1_, y1=y1_,
                       line=dict(color="#333", width=1.4)))
label(692, 668, "Human" + NB + G + NB + "days", 10, "#cc66ff")
label(625, 586, "L", 18)
label(628, 658, "Relative % cTnT" + NB + NB + " cells", 9.5, angle=-90)

layout["annotations"] = annotations
layout["shapes"] = shapes
fig.update_layout(**layout)
fig.write_html("out.html")
